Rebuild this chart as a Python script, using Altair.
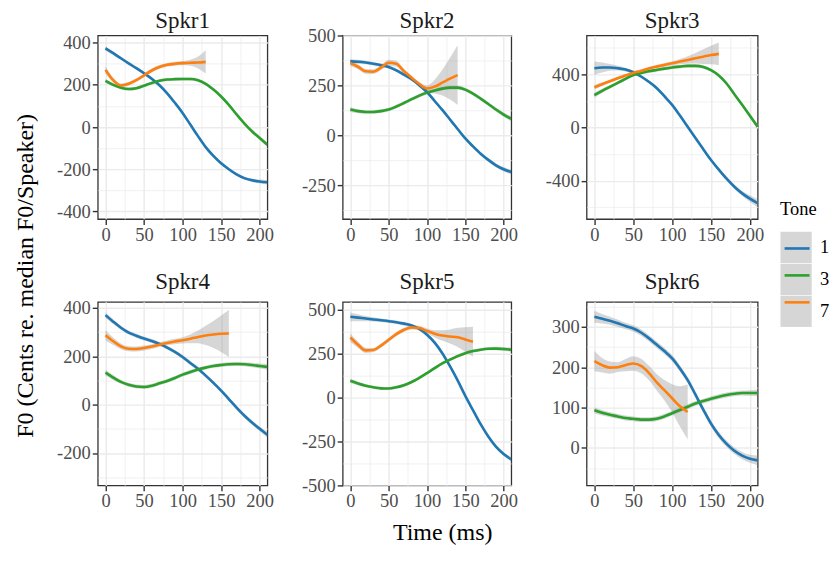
import altair as alt
import pandas as pd

# ---------------- data ----------------
TIME = [0, 10, 20, 30, 40, 50, 60, 70, 80, 90, 100, 110, 120, 130, 140, 150, 160, 170, 180, 190, 200, 210]
TONES = ["1", "3", "7"]
TONE_COLORS = ["#1f77b4", "#2ca02c", "#ff7f0e"]

# Spkr1
S1_T1 = [373, 350, 326, 302, 279, 255, 229, 198, 160, 115, 67, 12, -43, -95, -137, -172, -200, -224, -242, -252, -258, -262]
S1_T1_SE = [10, 8, 7, 7, 7, 7, 7, 7, 7, 7, 7, 7, 7, 7, 7, 7, 7, 7, 7, 8, 9, 10]
S1_T3 = [219, 200, 186, 180, 184, 196, 209, 219, 225, 227, 228, 228, 222, 205, 178, 145, 105, 60, 18, -20, -52, -84]
S1_T3_SE = [10, 8, 7, 7, 7, 7, 7, 7, 7, 7, 7, 7, 7, 7, 7, 7, 7, 7, 7, 8, 9, 10]
S1_T7 = [271, 222, 197, 205, 222, 245, 268, 285, 295, 300, 303, 305, 306, 309]
S1_T7_SE = [18, 12, 10, 9, 9, 9, 9, 9, 9, 9, 10, 14, 28, 55]

# Spkr2
S2_T1 = [372, 370, 366, 360, 353, 344, 327, 305, 282, 252, 218, 173, 128, 80, 32, -15, -55, -92, -123, -150, -170, -184]
S2_T1_SE = [12, 10, 9, 9, 9, 9, 9, 9, 9, 9, 9, 9, 9, 9, 9, 9, 9, 9, 9, 10, 11, 12]
S2_T3 = [130, 122, 118, 118, 122, 130, 145, 163, 182, 200, 215, 226, 235, 240, 240, 230, 210, 185, 158, 130, 105, 83]
S2_T3_SE = [12, 10, 9, 9, 9, 9, 9, 9, 9, 9, 9, 9, 9, 9, 9, 9, 9, 9, 9, 10, 11, 12]
S2_T7 = [363, 345, 322, 320, 340, 365, 360, 322, 290, 258, 236, 245, 265, 285, 303]
S2_T7_SE = [15, 12, 12, 12, 12, 15, 15, 12, 10, 10, 15, 35, 65, 105, 150]

# Spkr3
S3_T1 = [445, 450, 451, 445, 435, 415, 383, 343, 297, 235, 170, 90, 5, -80, -163, -245, -317, -385, -445, -495, -535, -569]
S3_T1_SE = [50, 38, 25, 18, 14, 12, 12, 12, 12, 12, 12, 12, 12, 12, 12, 12, 13, 14, 16, 18, 25, 30]
S3_T3 = [243, 275, 305, 335, 365, 394, 410, 422, 432, 442, 451, 457, 463, 463, 455, 430, 390, 330, 250, 170, 88, 5]
S3_T3_SE = [20, 16, 14, 12, 12, 12, 12, 12, 12, 12, 12, 12, 12, 12, 12, 12, 12, 12, 12, 14, 16, 20]
S3_T7 = [301, 325, 347, 370, 390, 410, 425, 443, 457, 470, 482, 495, 507, 520, 532, 544, 553]
S3_T7_SE = [18, 14, 12, 12, 12, 12, 12, 12, 12, 14, 16, 20, 28, 40, 55, 70, 85]

# Spkr4
S4_T1 = [370, 343, 318, 298, 285, 273, 263, 251, 236, 218, 197, 172, 148, 120, 90, 58, 23, -12, -45, -74, -100, -125]
S4_T1_SE = [12, 10, 8, 8, 8, 8, 8, 8, 8, 8, 8, 8, 8, 8, 8, 8, 8, 8, 8, 9, 10, 12]
S4_T3 = [132, 112, 94, 82, 75, 73, 78, 88, 98, 110, 124, 135, 145, 153, 160, 164, 167, 168, 167, 164, 160, 156]
S4_T3_SE = [12, 10, 8, 8, 8, 8, 8, 8, 8, 8, 8, 8, 8, 8, 8, 8, 8, 8, 8, 9, 10, 12]
S4_T7 = [287, 262, 241, 231, 230, 234, 240, 248, 255, 261, 266, 272, 280, 286, 290, 293, 294]
S4_T7_SE = [22, 16, 12, 10, 10, 10, 10, 10, 10, 11, 13, 18, 26, 40, 56, 75, 97]

# Spkr5
S5_T1 = [459, 454, 449, 444, 439, 434, 428, 420, 410, 390, 357, 312, 252, 178, 97, 9, -72, -152, -222, -280, -322, -352]
S5_T1_SE = [25, 20, 15, 12, 10, 10, 10, 10, 10, 10, 10, 10, 10, 10, 10, 10, 10, 10, 10, 10, 10, 12]
S5_T3 = [95, 80, 67, 58, 52, 51, 58, 70, 88, 112, 139, 167, 194, 215, 235, 252, 264, 272, 277, 278, 276, 272]
S5_T3_SE = [12, 10, 9, 9, 9, 9, 9, 9, 9, 9, 9, 9, 9, 9, 9, 9, 9, 9, 9, 10, 11, 12]
S5_T7 = [341, 300, 268, 270, 295, 328, 360, 385, 398, 395, 378, 363, 352, 347, 342, 330, 317]
S5_T7_SE = [25, 18, 15, 12, 12, 12, 12, 12, 12, 13, 15, 20, 30, 40, 55, 70, 85]

# Spkr6
S6_T1 = [325, 320, 315, 309, 302, 296, 286, 272, 256, 240, 222, 197, 168, 132, 95, 60, 32, 10, -7, -19, -27, -31]
S6_T1_SE = [15, 12, 10, 9, 8, 8, 8, 8, 8, 8, 8, 8, 8, 8, 8, 8, 8, 8, 8, 9, 10, 12]
S6_T3 = [93, 87, 82, 78, 74, 72, 70, 70, 72, 78, 86, 94, 102, 110, 116, 122, 127, 131, 134, 136, 136, 136]
S6_T3_SE = [8, 7, 6, 6, 6, 6, 6, 6, 6, 6, 6, 6, 6, 6, 6, 6, 6, 6, 6, 6, 7, 8]
S6_T7 = [215, 205, 199, 200, 205, 209, 203, 186, 163, 143, 123, 103, 89]
S6_T7_SE = [25, 18, 15, 12, 15, 18, 18, 18, 20, 25, 35, 50, 68]

SERIES = [
    ("Spkr1", "1", S1_T1, S1_T1_SE), ("Spkr1", "3", S1_T3, S1_T3_SE), ("Spkr1", "7", S1_T7, S1_T7_SE),
    ("Spkr2", "1", S2_T1, S2_T1_SE), ("Spkr2", "3", S2_T3, S2_T3_SE), ("Spkr2", "7", S2_T7, S2_T7_SE),
    ("Spkr3", "1", S3_T1, S3_T1_SE), ("Spkr3", "3", S3_T3, S3_T3_SE), ("Spkr3", "7", S3_T7, S3_T7_SE),
    ("Spkr4", "1", S4_T1, S4_T1_SE), ("Spkr4", "3", S4_T3, S4_T3_SE), ("Spkr4", "7", S4_T7, S4_T7_SE),
    ("Spkr5", "1", S5_T1, S5_T1_SE), ("Spkr5", "3", S5_T3, S5_T3_SE), ("Spkr5", "7", S5_T7, S5_T7_SE),
    ("Spkr6", "1", S6_T1, S6_T1_SE), ("Spkr6", "3", S6_T3, S6_T3_SE), ("Spkr6", "7", S6_T7, S6_T7_SE),
]

X_TICKS = [0, 25, 50, 75, 100, 125, 150, 175, 200]

# speaker -> y domain, major step, y tick values (major + minor)
Y_SETUP = {
    "Spkr1": ([-436, 434], 200, [-400, -300, -200, -100, 0, 100, 200, 300, 400]),
    "Spkr2": ([-420, 502], 250, [-375, -250, -125, 0, 125, 250, 375, 500]),
    "Spkr3": ([-688, 691], 400, [-600, -400, -200, 0, 200, 400, 600]),
    "Spkr4": ([-334, 425], 200, [-300, -200, -100, 0, 100, 200, 300, 400]),
    "Spkr5": ([-500, 544], 250, [-500, -375, -250, -125, 0, 125, 250, 375, 500]),
    "Spkr6": ([-93, 362], 100, [-50, 0, 50, 100, 150, 200, 250, 300, 350]),
}

rows = []
for spk, tone, vals, se in SERIES:
    for t, v, h in zip(TIME, vals, se):
        rows.append({"Speaker": spk, "Tone": tone, "ToneB": tone, "Time": t,
                     "F0": v, "Lo": v - h, "Hi": v + h})
df = pd.DataFrame(rows)

SERIF = "Liberation Serif"
LEG_X, LEG_Y = 684, 165

fill_legend = alt.Legend(
    orient="none", legendX=LEG_X, legendY=LEG_Y, title="Tone", titleFont=SERIF,
    titleFontSize=18.5, titleFontWeight="normal", titleColor="#000000", titlePadding=13,
    labelFont=SERIF, labelFontSize=18.5, labelColor="#000000", labelOffset=8,
    symbolType="square", symbolSize=980, symbolStrokeWidth=0, symbolOpacity=0.4,
    rowPadding=0, padding=0,
)
stroke_legend = alt.Legend(
    orient="none", legendX=LEG_X, legendY=LEG_Y, title="Tone", titleFont=SERIF,
    titleFontSize=18.5, titleFontWeight="normal", titleOpacity=0, titlePadding=13,
    labelFont=SERIF, labelFontSize=18.5, labelExpr="''", labelOffset=8,
    symbolType="M-0.8,0L0.8,0", symbolSize=980, symbolStrokeWidth=2.6,
    symbolFillColor="transparent", rowPadding=0, padding=0,
)

AXIS_STYLE = dict(domain=False, labelFont=SERIF, labelFontSize=18.5, labelColor="#4d4d4d",
                  tickColor="#333333", tickWidth=1.4, tickSize=5.5, gridColor="#ebebeb",
                  labelOverlap=False, labelFlush=False)


def cond(test, a, b):
    return {"condition": {"test": test, "value": a}, "value": b}


def x_axis(title=False):
    test = "datum.value % 50 === 0"
    kw = dict(values=X_TICKS, labelExpr=f"{test} ? '' + datum.value : ''",
              gridWidth=cond(test, 1.4, 0.7), tickOpacity=cond(test, 1, 0),
              labelPadding=1, **AXIS_STYLE)
    if title:
        kw.update(title="Time (ms)", titleX=99.7, titleY=54.5, titleBaseline="alphabetic",
                  titleAlign="center", titleFont=SERIF, titleFontSize=24,
                  titleFontWeight="normal", titleColor="#000000")
    else:
        kw["title"] = None
    return alt.Axis(**kw)


def y_axis(step, values, title=False):
    test = f"datum.value % {step} === 0"
    kw = dict(values=values, labelExpr=f"{test} ? '' + datum.value : ''",
              gridWidth=cond(test, 1.4, 0.7), tickOpacity=cond(test, 1, 0),
              labelPadding=2, **AXIS_STYLE)
    if title:
        kw.update(title="F0 (Cents re. median F0/Speaker)", titleX=-65.5, titleY=240.5,
                  titleAngle=270, titleBaseline="alphabetic", titleAlign="center",
                  titleFont=SERIF, titleFontSize=24, titleFontWeight="normal",
                  titleColor="#000000")
    else:
        kw["title"] = None
    return alt.Axis(**kw)


def panel(spk, width, title_off, ytitle=False, xtitle=False):
    ydom, step, yvals = Y_SETUP[spk]
    xa = x_axis(xtitle)
    ya = y_axis(step, yvals, ytitle)
    xs = alt.Scale(domain=[-10, 210], nice=False, zero=False)
    ys = alt.Scale(domain=ydom, nice=False, zero=False)
    base = alt.Chart(df).transform_filter(alt.datum.Speaker == spk)
    band = base.mark_area(opacity=0.4, clip=True, interpolate="monotone").encode(
        x=alt.X("Time:Q", scale=xs, axis=xa),
        y=alt.Y("Lo:Q", scale=ys, axis=ya),
        y2="Hi:Q",
        fill=alt.Fill("ToneB:N", scale=alt.Scale(range=["#999999", "#999999", "#999999"]),
                      legend=fill_legend),
    )
    line = base.mark_line(strokeWidth=2.6, clip=True, interpolate="monotone").encode(
        x=alt.X("Time:Q", scale=xs, axis=xa),
        y=alt.Y("F0:Q", scale=ys, axis=ya),
        stroke=alt.Stroke("Tone:N", scale=alt.Scale(domain=TONES, range=TONE_COLORS),
                          legend=stroke_legend),
    )
    return alt.layer(band, line).properties(
        width=width, height=184,
        title=alt.TitleParams(text=spk, font=SERIF, fontSize=23, fontWeight="normal",
                              color="#1a1a1a", anchor="middle", frame="group",
                              baseline="alphabetic", offset=title_off),
    )


chart = alt.concat(
    panel("Spkr1", 170, -17.6, ytitle=True), panel("Spkr2", 169, -24.4), panel("Spkr3", 171.5, -15.5),
    panel("Spkr4", 170, -13.2), panel("Spkr5", 169, -11.5, xtitle=True), panel("Spkr6", 171.5, -14.4),
    columns=3, spacing=alt.RowColnumber(row=83, column=75.5), bounds="flush",
).properties(
    padding={"left": 4, "top": -0.1, "right": 0, "bottom": 0}
).configure(
    background="white"
).configure_view(
    stroke="#333333", strokeWidth=1.3
)

chart.save("out.html", embed_options={"renderer": "svg", "actions": False})
